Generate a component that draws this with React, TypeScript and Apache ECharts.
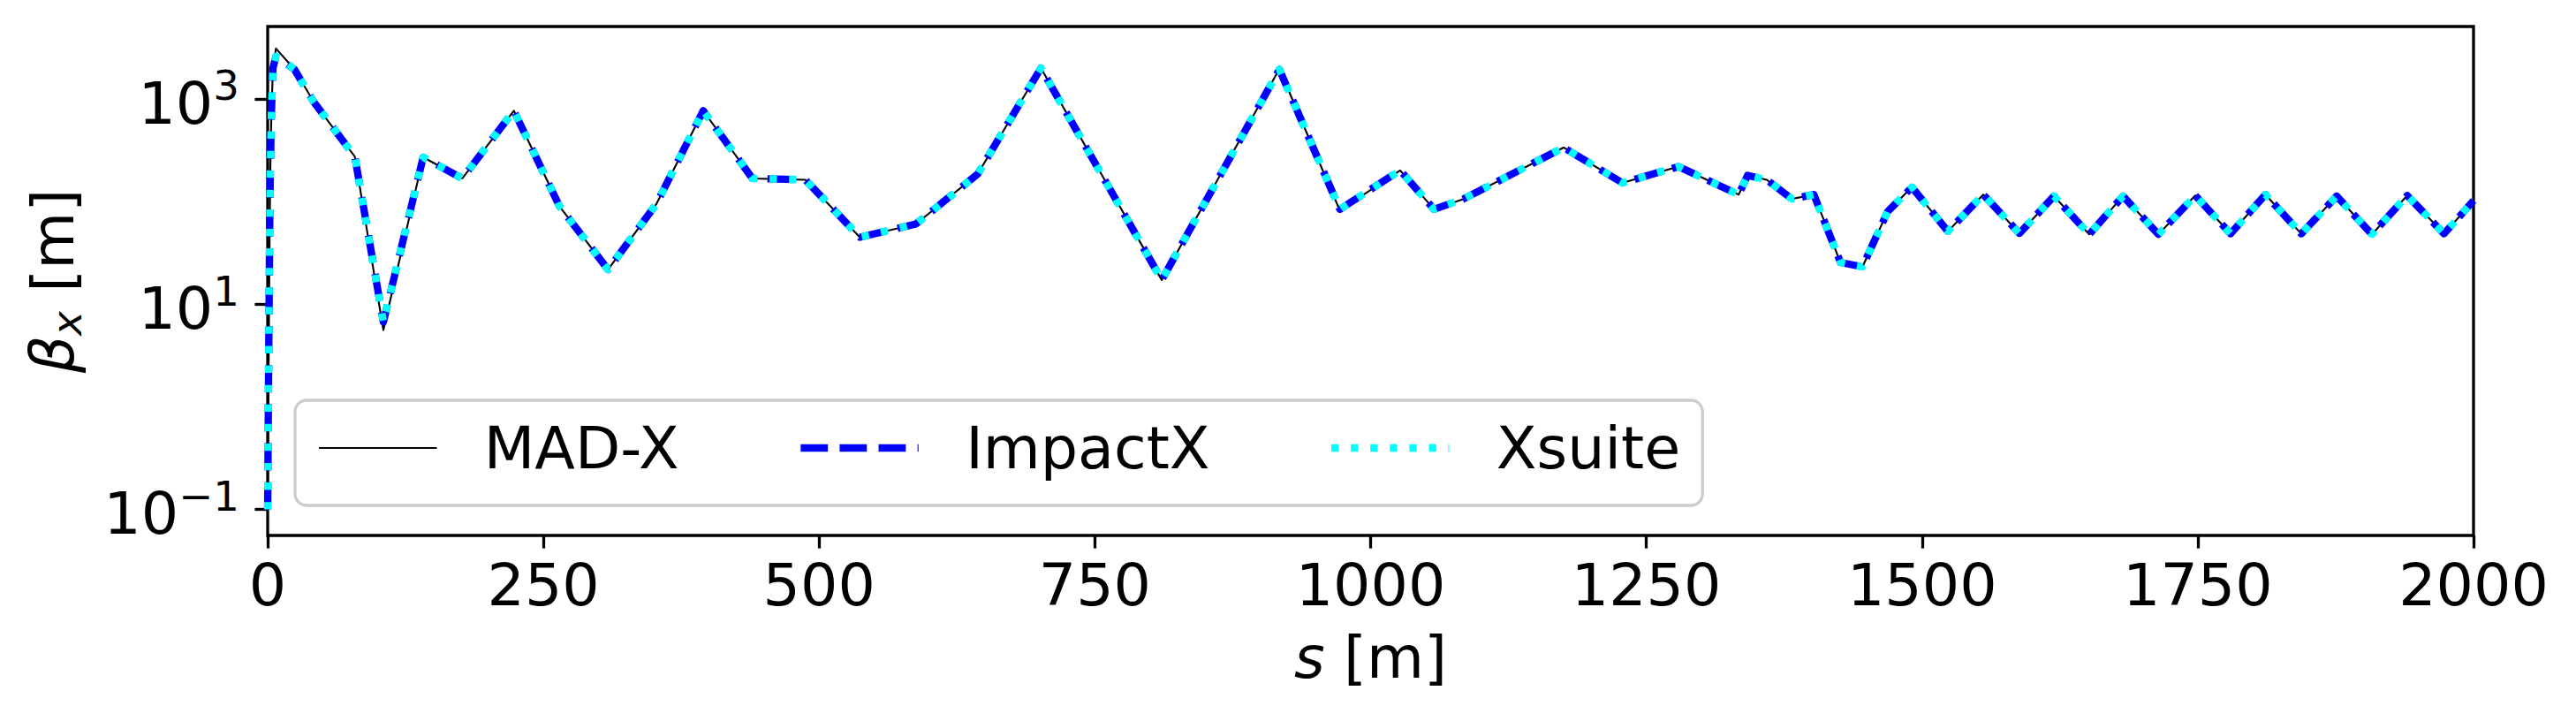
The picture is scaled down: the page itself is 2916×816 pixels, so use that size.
import React, { useEffect, useRef } from 'react';
import * as echarts from 'echarts';

// s positions [m]
const sPositions = [
  0, 1.0, 1.8, 2.4, 3.4, 4.8, 7.5,
  24.3, 41.7, 73.7, 79.0, 104.9,
  141.0, 176.5, 223.2, 264.6, 308.6,
  352.7, 394.9, 439.5, 487.5, 536.9,
  587.7, 643.7, 701.1, 810.6, 917.3,
  972.1, 1026.8, 1057.5, 1084.3, 1175.0,
  1228.4, 1279.1, 1333.8, 1341.8, 1359.2,
  1381.9, 1401.9, 1426.0, 1446.0, 1468.7,
  1490.8, 1523.4, 1555.5, 1588.3, 1619.6,
  1651.6, 1682.2, 1714.3, 1747.7, 1779.7,
  1811.3, 1843.8, 1875.9, 1907.9, 1939.9,
  1973.3, 2000,
];

// beta_x [m]
const betaMadx = [
  0.1, 3.8, 52, 200, 740, 2000, 3100,
  1940, 937, 326, 275, 5.6,
  270, 168, 768, 89.8, 21.7,
  95.7, 768, 168, 163, 44.9,
  60.4, 185, 2000, 17.2, 1960,
  82, 201, 84, 106, 336,
  152, 219, 117, 180, 163,
  106, 117, 25.5, 23.1, 79.6,
  138, 51.2, 117, 48.9, 113,
  47.9, 113, 47.9, 114.5, 48.5,
  117, 48.5, 113, 47.9, 114.5,
  48.5, 102,
];

const betaImpactx = [
  0.1, 3.8, 52, 200, 740, 2000, 2600,
  1940, 937, 326, 275, 6.7,
  270, 168, 768, 89.8, 21.7,
  95.7, 768, 168, 163, 44.9,
  60.4, 185, 2000, 17.2, 1940,
  84, 201, 84, 106, 336,
  152, 219, 117, 180, 163,
  106, 117, 25.5, 23.1, 79.6,
  138, 51.2, 117, 48.9, 113,
  47.9, 113, 47.9, 114.5, 48.5,
  117, 48.5, 113, 47.9, 114.5,
  48.5, 102,
];

const betaXsuite = [
  0.1, 3.8, 52, 200, 740, 2000, 2600,
  1940, 937, 326, 275, 6.7,
  270, 168, 768, 89.8, 21.7,
  95.7, 768, 168, 163, 44.9,
  60.4, 185, 2000, 17.2, 1940,
  84, 201, 84, 106, 336,
  152, 219, 117, 180, 163,
  106, 117, 25.5, 23.1, 79.6,
  138, 51.2, 117, 48.9, 113,
  47.9, 113, 47.9, 114.5, 48.5,
  117, 48.5, 113, 47.9, 114.5,
  48.5, 102,
];

const seriesNames = ['MAD-X', 'ImpactX', 'Xsuite'];
const xMin = 0;
const xMax = 2000;
const xInterval = 250;
const yTickValues = [0.1, 10, 1000];
const yMin = 0.0557;
const yMax = 5080;

const FONT = 'DejaVu Sans';
const FS = 66.7;
const SUB_FS = 46.7;

export default function App() {
  const ref = useRef<HTMLDivElement>(null);

  useEffect(() => {
    const chart = echarts.init(ref.current as HTMLDivElement, null, { renderer: 'svg' });
    const pair = (ys: number[]) => sPositions.map((s, i) => [s, ys[i]]);
    const expLabel = (v: number) => {
      const e = Math.round(Math.log10(v));
      const es = e < 0 ? '\u2212' + Math.abs(e) : String(e);
      return '{a|10}{b|' + es + '}';
    };

    chart.setOption({
      animation: false,
      textStyle: { fontFamily: FONT },
      grid: {
        left: 303,
        right: 116,
        top: 30,
        bottom: 210,
        show: true,
        borderColor: '#000',
        borderWidth: 3.3,
        backgroundColor: 'transparent',
        outerBoundsMode: 'none',
      },
      legend: {
        data: seriesNames,
        left: 334,
        top: 453,
        orient: 'horizontal',
        itemWidth: 133.4,
        itemHeight: 70,
        itemGap: 133.4,
        padding: [19, 25, 30, 26],
        backgroundColor: '#ffffff',
        borderColor: '#cccccc',
        borderWidth: 3.3,
        borderRadius: 13,
        selectedMode: false,
        itemStyle: { color: 'rgba(0,0,0,0)', borderColor: 'rgba(0,0,0,0)', borderWidth: 0 },
        lineStyle: { width: 'inherit' },
        textStyle: {
          fontSize: FS,
          fontFamily: FONT,
          color: '#000',
          lineHeight: 70,
          padding: [0, 0, 0, 48.4],
        },
      },
      xAxis: {
        type: 'value',
        min: xMin,
        max: xMax,
        interval: xInterval,
        name: '{i|s}{n| [m]}',
        nameLocation: 'middle',
        nameGap: 98,
        nameTextStyle: {
          fontSize: FS,
          fontFamily: FONT,
          color: '#000',
          lineHeight: 80,
          rich: {
            i: { fontSize: FS, fontFamily: FONT, fontStyle: 'italic', color: '#000', lineHeight: 80 },
            n: { fontSize: FS, fontFamily: FONT, color: '#000', lineHeight: 80 },
          },
        },
        axisLine: { show: false },
        axisTick: { show: true, inside: false, length: 14.6, lineStyle: { color: '#000', width: 3.3 } },
        axisLabel: {
          fontSize: FS,
          fontFamily: FONT,
          color: '#000',
          margin: 21,
          lineHeight: 70,
          formatter: (v: number) => String(v),
        },
        splitLine: { show: false },
      },
      yAxis: {
        type: 'log',
        logBase: 10,
        min: yMin,
        max: yMax,
        name: '{b|\u03b2}{sub|x}{n| [m]}',
        nameLocation: 'middle',
        nameGap: 204,
        nameTextStyle: {
          fontSize: FS,
          fontFamily: FONT,
          color: '#000',
          lineHeight: 78,
          rich: {
            b: { fontSize: FS, fontFamily: FONT, fontStyle: 'italic', color: '#000', lineHeight: 78 },
            sub: { fontSize: SUB_FS, fontFamily: FONT, fontStyle: 'italic', color: '#000', lineHeight: SUB_FS, verticalAlign: 'bottom' },
            n: { fontSize: FS, fontFamily: FONT, color: '#000', lineHeight: 78 },
          },
        },
        axisLine: { show: false },
        axisTick: {
          show: true,
          inside: false,
          length: 14.6,
          customValues: yTickValues,
          lineStyle: { color: '#000', width: 3.3 },
        },
        minorTick: { show: false },
        axisLabel: {
          customValues: yTickValues,
          margin: 32,
          padding: [10, 0, 0, 0],
          formatter: (v: number) => expLabel(v),
          rich: {
            a: { fontSize: FS, fontFamily: FONT, color: '#000', lineHeight: 86 },
            b: { fontSize: SUB_FS, fontFamily: FONT, color: '#000', lineHeight: SUB_FS, verticalAlign: 'top' },
          },
        },
        splitLine: { show: false },
      },
      series: [
        {
          name: seriesNames[0],
          type: 'line',
          data: pair(betaMadx),
          symbol: 'none',
          showSymbol: false,
          silent: true,
          z: 2,
          lineStyle: { color: '#000000', width: 2.08, type: 'solid', join: 'round', cap: 'butt' },
          itemStyle: { color: '#000000' },
          emphasis: { disabled: true },
        },
        {
          name: seriesNames[1],
          type: 'line',
          data: pair(betaImpactx),
          symbol: 'none',
          showSymbol: false,
          silent: true,
          z: 3,
          lineStyle: { color: '#0000ff', width: 8.33, type: [30.8, 13.3], join: 'round', cap: 'butt' },
          itemStyle: { color: '#0000ff' },
          emphasis: { disabled: true },
        },
        {
          name: seriesNames[2],
          type: 'line',
          data: pair(betaXsuite),
          symbol: 'none',
          showSymbol: false,
          silent: true,
          z: 4,
          lineStyle: { color: '#00ffff', width: 8.33, type: [8.33, 13.75], join: 'round', cap: 'butt' },
          itemStyle: { color: '#00ffff' },
          emphasis: { disabled: true },
        },
      ],
    });

    return () => chart.dispose();
  }, []);

  return (
    <div
      ref={ref}
      style={{ position: 'absolute', left: 0, top: 0, width: 2916, height: 816, background: '#ffffff' }}
    />
  );
}
